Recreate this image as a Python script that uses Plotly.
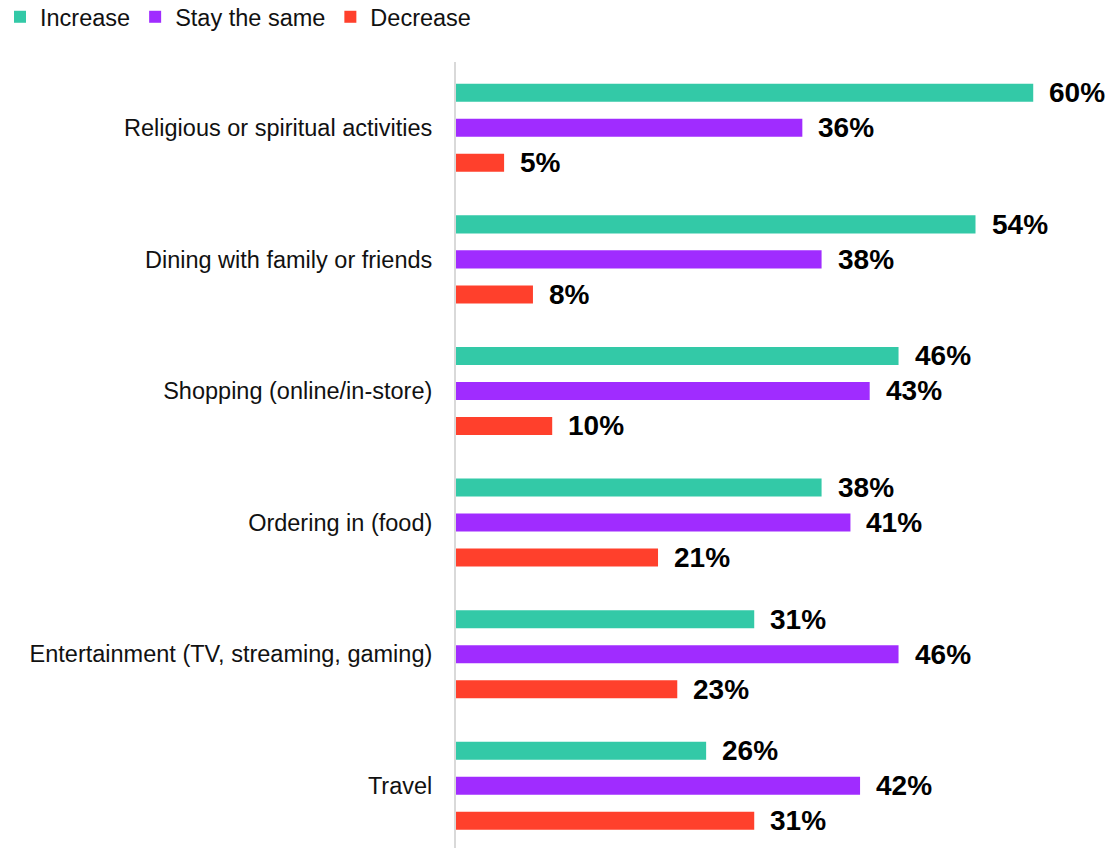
import plotly.graph_objects as go

categories = [
    "Religious or spiritual activities",
    "Dining with family or friends",
    "Shopping (online/in-store)",
    "Ordering in (food)",
    "Entertainment (TV, streaming, gaming)",
    "Travel",
]
increase = [60, 54, 46, 38, 31, 26]
stay_same = [36, 38, 43, 41, 46, 42]
decrease = [5, 8, 10, 21, 23, 31]

series = [
    ("Increase", increase, "#33C9A7"),
    ("Stay the same", stay_same, "#A02CFF"),
    ("Decrease", decrease, "#FF402C"),
]

FONT = "Liberation Sans, Arial, sans-serif"
bar_w = 0.137
centers = [-0.266, 0.0, 0.266]

fig = go.Figure()
annotations = []
for (name, vals, color), c in zip(series, centers):
    fig.add_trace(go.Bar(
        name=name, y=categories, x=vals, orientation="h",
        marker=dict(color=color, line=dict(width=0)),
        width=bar_w, offset=c - bar_w / 2,
        hoverinfo="x+y",
    ))
    for i, v in enumerate(vals):
        annotations.append(dict(
            x=v, y=i + c, xref="x", yref="y", text=f"{v}%",
            showarrow=False, xanchor="left", yanchor="middle", xshift=14,
            font=dict(family=FONT, size=28, color="#000000", weight="bold"),
        ))

fig.update_layout(
    width=1115, height=848,
    margin=dict(l=456, r=0, t=62, b=0),
    barmode="overlay",
    plot_bgcolor="white", paper_bgcolor="white",
    font=dict(family=FONT, size=23.5, color="#111111"),
    showlegend=True,
    legend=dict(
        orientation="h", xref="container", yref="container",
        x=-5 / 1115, y=1 - 17 / 848, xanchor="left", yanchor="middle",
        font=dict(family=FONT, size=23.5, color="#111111"),
        itemwidth=30, tracegroupgap=0,
    ),
    annotations=annotations,
)
fig.update_xaxes(range=[0, 68.5], visible=False, showgrid=False, zeroline=False)
fig.update_yaxes(
    range=[5.473, -0.5], showgrid=False, zeroline=False,
    showline=True, linecolor="#d9d9d9", linewidth=2,
    ticks="", ticklabelstandoff=17,
    tickfont=dict(family=FONT, size=23.5, color="#111111"),
)

fig.write_html("out.html")
